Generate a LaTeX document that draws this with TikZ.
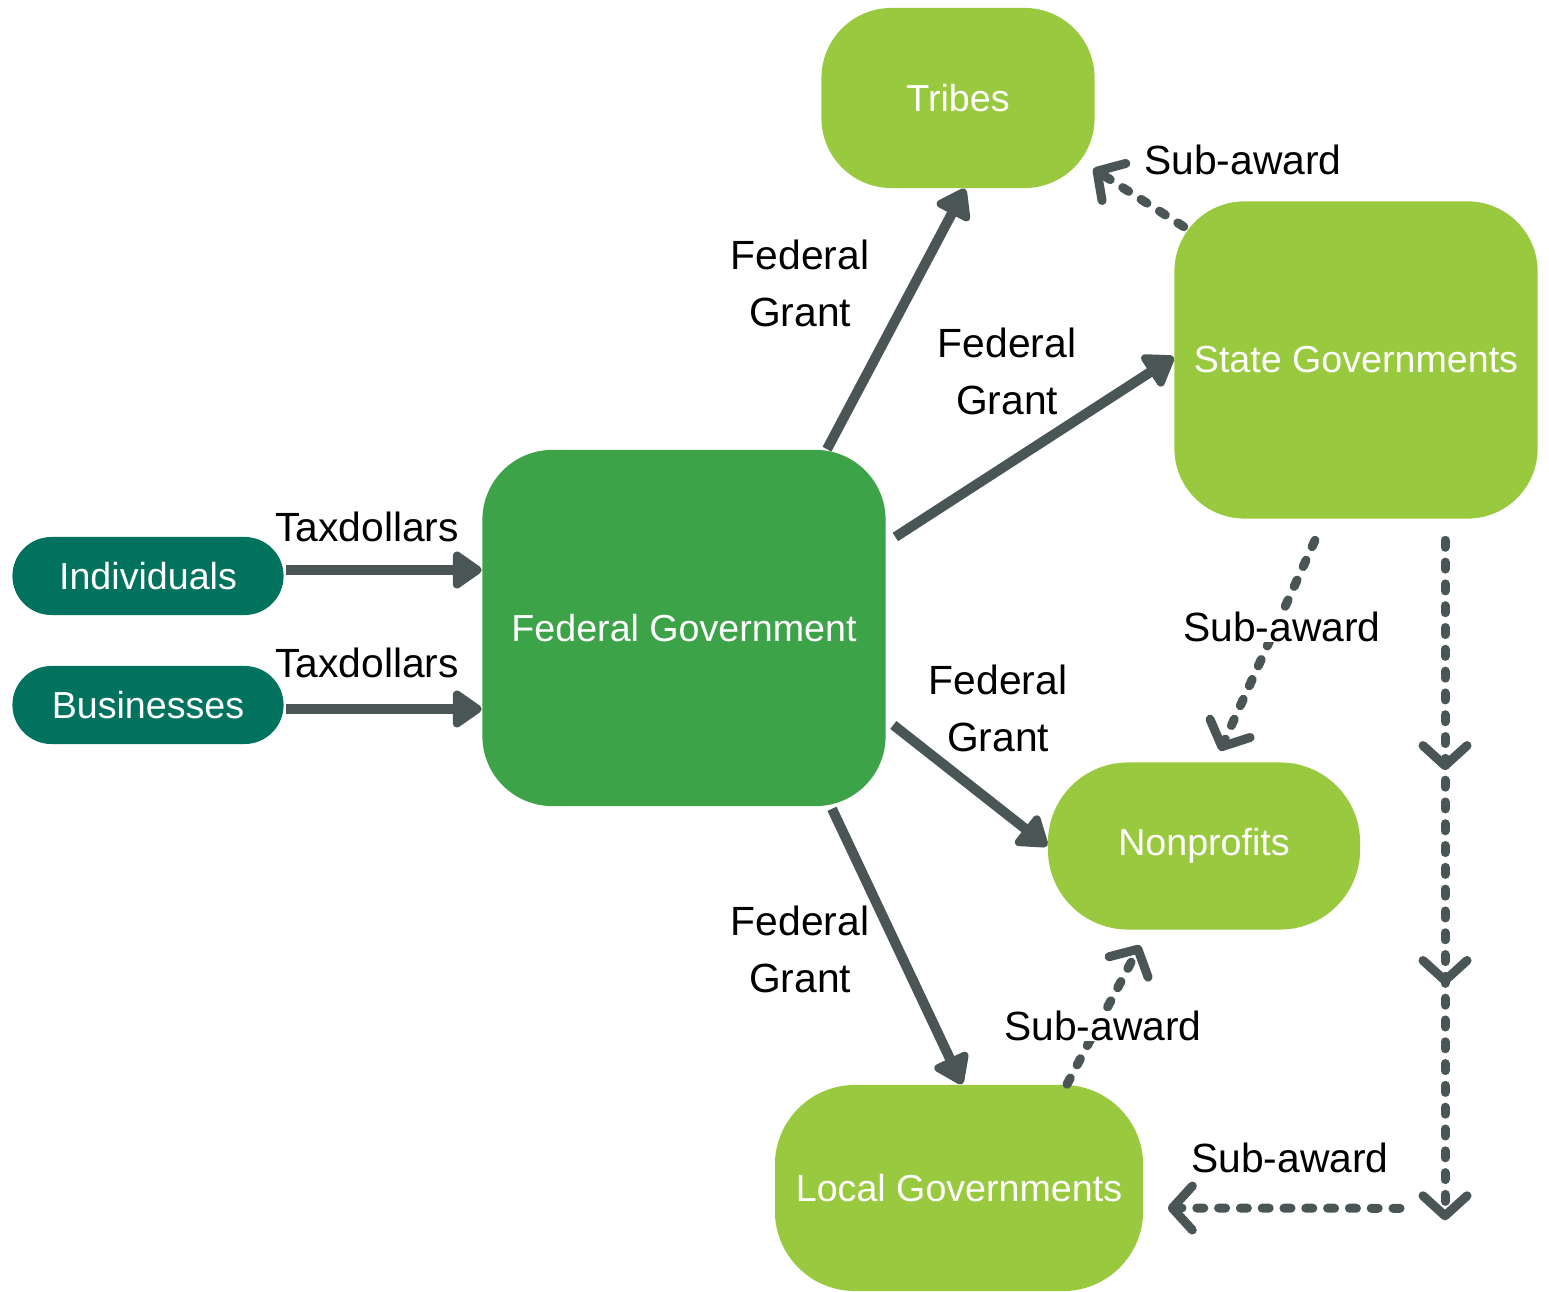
\documentclass[tikz,border=0pt]{standalone}
\usepackage{fontspec}
\setmainfont{Liberation Sans}
\usetikzlibrary{arrows.meta,calc,decorations.markings}
\definecolor{payercolor}{HTML}{00725D}
\definecolor{fedgreen}{HTML}{3DA349}
\definecolor{leafgreen}{HTML}{99C93E}
\definecolor{arrowgray}{HTML}{4A5656}

\begin{document}
\begin{tikzpicture}[x=0.01cm,y=-0.01cm]
  \tikzstyle{payer}=[rectangle,rounded corners=0.39cm,fill=payercolor,text=white,minimum width=2.71cm,minimum height=0.78cm,font=\fontsize{10.7}{13}\selectfont]
  \tikzstyle{agency}=[rectangle,rounded corners=0.7cm,fill=leafgreen,text=white,font=\fontsize{10.7}{13}\selectfont]
  \tikzstyle{flow}=[draw=arrowgray,line width=0.1cm,-{Triangle[length=0.32cm,width=0.42cm,round]}]
  \tikzstyle{subflow}=[draw=arrowgray,line width=0.09cm,line cap=round,dash pattern=on 2pt off 4.2pt,>={Straight Barb[length=0.2cm,width=0.44cm,round]},->]
  \tikzstyle{flowtext}=[font=\fontsize{11.6}{16.2}\selectfont,align=center,inner sep=0pt]
  \useasboundingbox (0,0) rectangle (1549,1292);
  \node[payer] (ind) at (148,576) {Individuals};
  \node[payer] (bus) at (148,705) {Businesses};
  \node[agency,fill=fedgreen,minimum width=4.03cm,minimum height=3.56cm] (fed) at (684,628) {Federal Government};
  \node[agency,minimum width=2.73cm,minimum height=1.8cm] (tribes) at (958,98) {Tribes};
  \node[agency,minimum width=3.63cm,minimum height=3.17cm] (state) at (1356,360) {State Governments};
  \node[agency,rounded corners=0.8cm,minimum width=3.12cm,minimum height=1.67cm] (npo) at (1204,846) {Nonprofits};
  \node[agency,rounded corners=0.8cm,minimum width=3.68cm,minimum height=2.06cm] (local) at (959,1188) {Local Governments};
  \draw[flow] ($(ind.east)+(2,-6)$) -- ($(fed.west)+(0,-58)$);
  \draw[flow] ($(bus.east)+(2,4)$) -- ($(fed.west)+(0,81)$);
  \draw[flow] ($(fed.north)+(143,0)$) -- ($(tribes.south)+(7,0)$);
  \draw[flow] ($(fed.east)+(9,-91)$) -- ($(state.west)+(0,-3)$);
  \draw[flow] ($(fed.east)+(7,97)$) -- (npo.west);
  \draw[flow] ($(fed.south)+(148,2)$) -- ($(local.north)+(3,0)$);
  \draw[subflow] ($(state.north west)+(10,26)$) -- ($(tribes.south east)+(-2,-20)$);
  \draw[subflow] ($(state.south)+(-41,21)$) -- ($(npo.north)+(16,-11)$);
  \draw[subflow] ($(local.north)+(108,0)$) -- ($(npo.south)+(-64,15)$);
  \coordinate (turn) at ($(state.south)+(89,701)$);
  \draw[subflow,postaction={decorate},decoration={markings,mark=at position 0.338 with {\arrow{>}},mark=at position 0.654 with {\arrow{>}}}] ($(state.south)+(89,21)$) -- (turn);
  \draw[subflow] ($(turn)+(-45,-12)$) -- ($(local.east)+(24,20)$);
  \node[flowtext] (tax1) at (367,527) {Taxdollars};
  \node[flowtext] (tax2) at (367,663) {Taxdollars};
  \node[flowtext] (grant1) at (800,283) {Federal\\Grant};
  \node[flowtext] (grant2) at (1007,371) {Federal\\Grant};
  \node[flowtext] (grant3) at (998,708) {Federal\\Grant};
  \node[flowtext] (grant4) at (800,949) {Federal\\Grant};
  \node[flowtext] (sub1) at (1243,160) {Sub-award};
  \node[flowtext,fill=white] (sub2) at (1282,627) {Sub-award};
  \node[flowtext,fill=white] (sub3) at (1103,1026) {Sub-award};
  \node[flowtext] (sub4) at (1290,1158) {Sub-award};
\end{tikzpicture}
\end{document}
